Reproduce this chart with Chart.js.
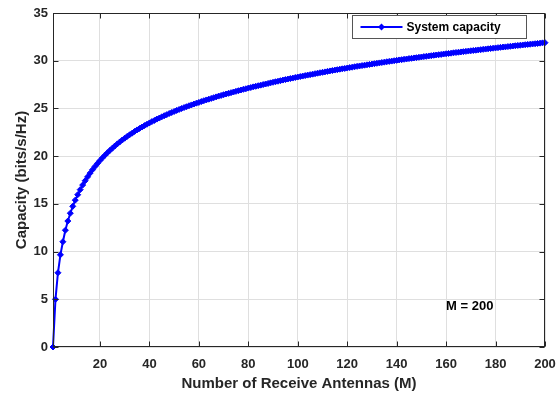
<!DOCTYPE html>
<html>
<head>
<meta charset="utf-8">
<script src="https://cdn.jsdelivr.net/npm/chart.js@4.4.1/dist/chart.umd.min.js"></script>
<style>
  html, body { margin: 0; padding: 0; background: #fff; }
  #wrap { width: 560px; height: 398px; }
</style>
</head>
<body>
<div id="wrap"><canvas id="capacityChart" width="560" height="398"></canvas></div>
<script>
// number of receive antennas M = 1..200
const antennaCounts = Array.from({ length: 200 }, (_, i) => i + 1);

// capacity in bits/s/Hz
const systemCapacity = [
  0, 5.00, 7.78, 9.66, 11.03, 12.24, 13.20, 14.02, 14.74, 15.39,
  15.96, 16.49, 16.97, 17.42, 17.83, 18.22, 18.58, 18.92, 19.24, 19.54,
  19.82, 20.09, 20.35, 20.60, 20.83, 21.06, 21.28, 21.49, 21.69, 21.88,
  22.07, 22.24, 22.41, 22.59, 22.75, 22.90, 23.05, 23.20, 23.34, 23.48,
  23.62, 23.74, 23.88, 23.99, 24.12, 24.24, 24.35, 24.47, 24.57, 24.68,
  24.79, 24.89, 24.99, 25.09, 25.18, 25.28, 25.37, 25.46, 25.55, 25.63,
  25.72, 25.81, 25.89, 25.97, 26.05, 26.13, 26.21, 26.29, 26.36, 26.44,
  26.51, 26.58, 26.65, 26.72, 26.79, 26.86, 26.93, 27.00, 27.06, 27.13,
  27.19, 27.26, 27.32, 27.38, 27.44, 27.50, 27.56, 27.62, 27.68, 27.74,
  27.80, 27.85, 27.91, 27.97, 28.02, 28.08, 28.13, 28.18, 28.24, 28.29,
  28.34, 28.39, 28.44, 28.49, 28.54, 28.59, 28.64, 28.69, 28.74, 28.78,
  28.83, 28.88, 28.93, 28.97, 29.02, 29.06, 29.11, 29.15, 29.19, 29.23,
  29.28, 29.32, 29.37, 29.41, 29.45, 29.49, 29.53, 29.57, 29.61, 29.65,
  29.69, 29.73, 29.77, 29.81, 29.85, 29.89, 29.93, 29.96, 30.00, 30.04,
  30.08, 30.11, 30.15, 30.18, 30.22, 30.25, 30.29, 30.32, 30.36, 30.39,
  30.43, 30.46, 30.50, 30.53, 30.57, 30.60, 30.63, 30.66, 30.70, 30.73,
  30.76, 30.79, 30.83, 30.86, 30.89, 30.92, 30.95, 30.98, 31.01, 31.04,
  31.07, 31.10, 31.13, 31.16, 31.19, 31.22, 31.25, 31.28, 31.31, 31.34,
  31.37, 31.40, 31.43, 31.45, 31.48, 31.51, 31.54, 31.57, 31.60, 31.62,
  31.65, 31.68, 31.71, 31.73, 31.76, 31.78, 31.81, 31.84, 31.87, 31.89
];

const xTickValues = [20, 40, 60, 80, 100, 120, 140, 160, 180, 200];
const yTickValues = [0, 5, 10, 15, 20, 25, 30, 35];
const seriesName = 'System capacity';
const noteText = 'M = 200';

const FONT = "'Liberation Sans', Arial, Helvetica, sans-serif";
const INK = '#262626';
const BLUE = '#0000ff';

// box, inward ticks on all four sides, legend and the text note
const matlabFrame = {
  id: 'matlabFrame',
  afterDraw(chart) {
    const ctx = chart.ctx;
    const a = chart.chartArea;
    const xs = chart.scales.x, ys = chart.scales.y;
    const L = Math.round(a.left) + 0.5, R = Math.round(a.right) - 0.5;
    const T = Math.round(a.top) + 0.5, B = Math.round(a.bottom) - 0.5;
    ctx.save();
    ctx.strokeStyle = INK;
    ctx.lineWidth = 1;
    ctx.strokeRect(L, T, R - L, B - T);
    ctx.beginPath();
    xTickValues.forEach(v => {
      const px = Math.round(xs.getPixelForValue(v)) + 0.5;
      ctx.moveTo(px, B); ctx.lineTo(px, B - 5);
      ctx.moveTo(px, T); ctx.lineTo(px, T + 5);
    });
    yTickValues.forEach(v => {
      const py = Math.round(ys.getPixelForValue(v)) + 0.5;
      ctx.moveTo(L, py); ctx.lineTo(L + 5, py);
      ctx.moveTo(R, py); ctx.lineTo(R - 5, py);
    });
    ctx.stroke();

    // legend
    const bx = Math.round(a.right) - 192.5, by = Math.round(a.top) + 2.5;
    ctx.fillStyle = '#fff';
    ctx.fillRect(bx, by, 174, 23);
    ctx.strokeStyle = '#555';
    ctx.strokeRect(bx, by, 174, 23);
    const ly = by + 11.5;
    ctx.strokeStyle = BLUE;
    ctx.lineWidth = 2;
    ctx.beginPath();
    ctx.moveTo(bx + 8, ly); ctx.lineTo(bx + 50, ly);
    ctx.stroke();
    ctx.fillStyle = BLUE;
    ctx.beginPath();
    ctx.moveTo(bx + 29, ly - 3.5); ctx.lineTo(bx + 32.5, ly);
    ctx.lineTo(bx + 29, ly + 3.5); ctx.lineTo(bx + 25.5, ly);
    ctx.closePath(); ctx.fill();
    ctx.fillStyle = '#000';
    ctx.font = 'bold 12px ' + FONT;
    ctx.textAlign = 'left';
    ctx.textBaseline = 'middle';
    ctx.fillText(seriesName, bx + 54, ly + 0.5);

    // note
    ctx.font = 'bold 13px ' + FONT;
    ctx.fillText(noteText, xs.getPixelForValue(160), ys.getPixelForValue(4.2));
    ctx.restore();
  }
};

const ctx = document.getElementById('capacityChart').getContext('2d');
new Chart(ctx, {
  type: 'line',
  data: {
    datasets: [{
      label: seriesName,
      data: antennaCounts.map((m, i) => ({ x: m, y: systemCapacity[i] })),
      borderColor: BLUE,
      backgroundColor: BLUE,
      borderWidth: 2,
      pointStyle: 'rectRot',
      pointRadius: 3,
      pointBorderWidth: 1,
      pointBackgroundColor: BLUE,
      pointBorderColor: BLUE,
      tension: 0,
      clip: false
    }]
  },
  options: {
    responsive: false,
    animation: false,
    devicePixelRatio: 1,
    events: [],
    layout: { padding: { left: 0, right: 15, top: 13, bottom: 0 } },
    plugins: {
      legend: { display: false },
      tooltip: { enabled: false }
    },
    scales: {
      x: {
        type: 'linear',
        min: 1,
        max: 200,
        afterBuildTicks: s => { s.ticks = xTickValues.map(v => ({ value: v })); },
        afterFit: s => { s.height = 51; s.paddingLeft = 0; s.paddingRight = 0; },
        ticks: {
          color: INK,
          padding: 10,
          maxRotation: 0,
          font: { family: FONT, size: 13, weight: 'bold' }
        },
        grid: { color: '#dfdfdf', drawTicks: false },
        border: { display: false },
        title: {
          display: true,
          text: 'Number of Receive Antennas (M)',
          color: INK,
          padding: { top: 0, bottom: 5 },
          font: { family: FONT, size: 15, weight: 'bold' }
        }
      },
      y: {
        type: 'linear',
        min: 0,
        max: 35,
        afterBuildTicks: s => { s.ticks = yTickValues.map(v => ({ value: v })); },
        afterFit: s => { s.width = 53; s.paddingTop = 0; s.paddingBottom = 0; },
        ticks: {
          color: INK,
          padding: 5,
          font: { family: FONT, size: 13, weight: 'bold' }
        },
        grid: { color: '#dfdfdf', drawTicks: false },
        border: { display: false },
        title: {
          display: true,
          text: 'Capacity (bits/s/Hz)',
          color: INK,
          padding: { top: 13, bottom: 0 },
          font: { family: FONT, size: 15, weight: 'bold' }
        }
      }
    }
  },
  plugins: [matlabFrame]
});
</script>
</body>
</html>
